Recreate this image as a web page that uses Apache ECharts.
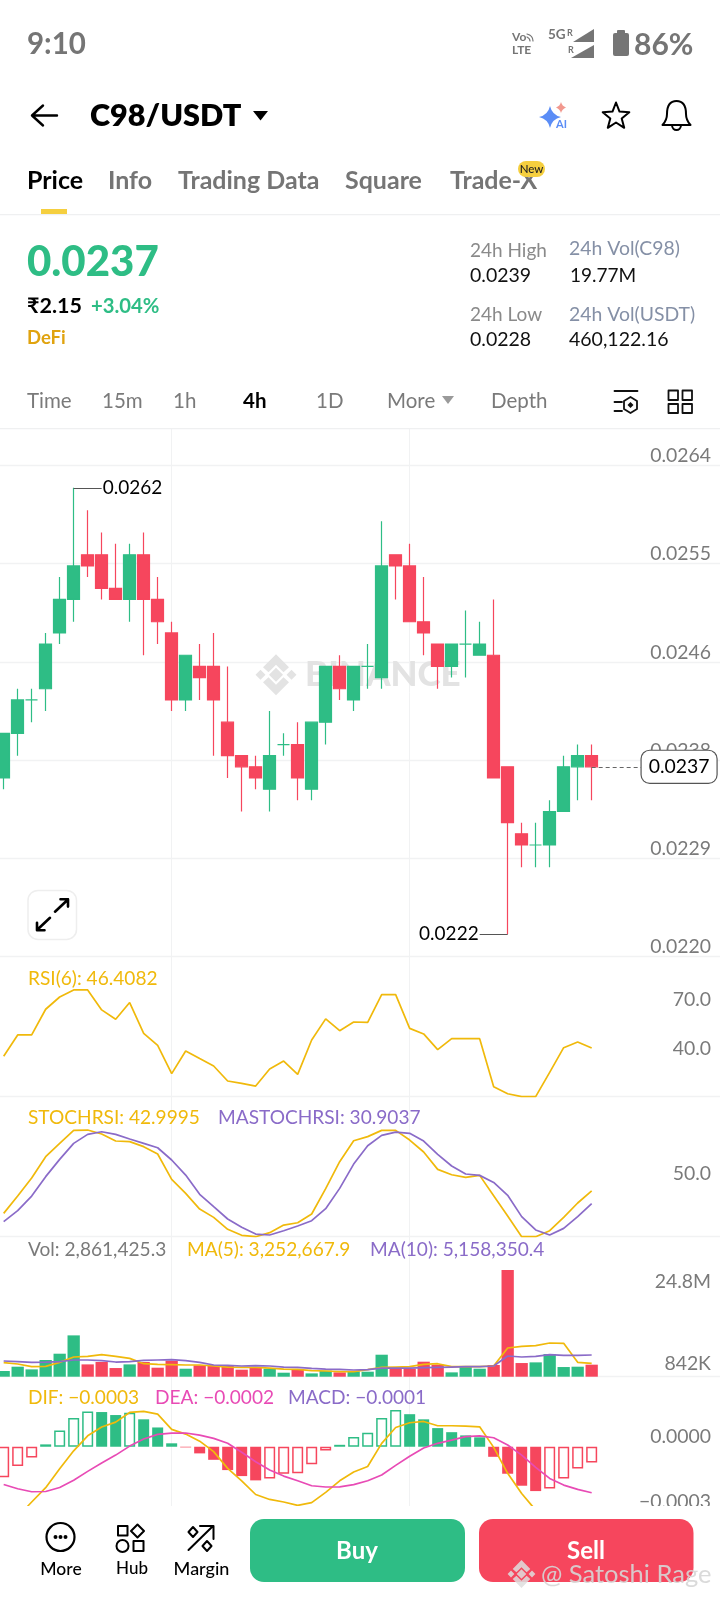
<!DOCTYPE html>
<html>
<head>
<meta charset="utf-8">
<title>C98/USDT</title>
<script src="https://cdn.jsdelivr.net/npm/echarts@6/dist/echarts.min.js"></script>
<style>
html, body { margin: 0; padding: 0; background: #fff; }
#chart { width: 720px; height: 1600px; }
</style>
</head>
<body>
<div id="chart"></div>
<script>
// candles, oldest first
const candleOpen  = [0.0236,0.0240,0.0243,0.0244,0.0249,0.0252,0.0256,0.0256,0.0253,0.0252,0.0256,0.0252,0.0249,0.0243,0.0246,0.0246,0.0241,0.0238,0.0237,0.0235,0.0239,0.0239,0.0235,0.0241,0.0246,0.0243,0.0246,0.0245,0.0256,0.0255,0.0250,0.0248,0.0246,0.0248,0.0247,0.0247,0.0237,0.0231,0.0230,0.0230,0.0233,0.0237,0.0238];
const candleClose = [0.0240,0.0243,0.0243,0.0248,0.0252,0.0255,0.0255,0.0253,0.0252,0.0256,0.0252,0.0250,0.0243,0.0247,0.0245,0.0243,0.0238,0.0237,0.0236,0.0238,0.0239,0.0236,0.0241,0.0246,0.0244,0.0246,0.0246,0.0255,0.0255,0.0250,0.0249,0.0246,0.0248,0.0248,0.0248,0.0236,0.0232,0.0230,0.0230,0.0233,0.0237,0.0238,0.0237];
const candleHigh  = [0.0240,0.0244,0.0244,0.0249,0.0254,0.0262,0.0260,0.0258,0.0257,0.0257,0.0258,0.0254,0.0250,0.0247,0.0248,0.0249,0.0246,0.0238,0.0238,0.0242,0.0240,0.0241,0.0241,0.0246,0.0247,0.0246,0.0248,0.0259,0.0256,0.0257,0.0254,0.0248,0.0248,0.0251,0.0250,0.0252,0.0237,0.0232,0.0232,0.0234,0.0238,0.0239,0.0239];
const candleLow   = [0.0235,0.0238,0.0241,0.0242,0.0248,0.0250,0.0254,0.0252,0.0252,0.0250,0.0247,0.0248,0.0242,0.0242,0.0243,0.0238,0.0236,0.0233,0.0235,0.0233,0.0238,0.0234,0.0234,0.0239,0.0243,0.0242,0.0244,0.0244,0.0252,0.0250,0.0247,0.0244,0.0245,0.0245,0.0247,0.0236,0.0222,0.0228,0.0228,0.0228,0.0233,0.0234,0.0234];
const priceTicks  = [0.0220,0.02288,0.02376,0.02464,0.02552,0.0264];

const rsi6 = [41.3,54.4,54.4,70.1,77.6,81.9,81.9,69.7,64.0,74.2,55.4,48.0,30.7,44.6,39.9,35.4,26.2,24.8,23.1,33.5,38.4,30.3,51.3,64.2,57.0,62.3,62.1,79.1,79.1,58.4,55.0,45.4,52.1,52.1,52.1,22.7,18.4,16.6,16.6,31.5,46.6,50.1,46.4];

const stochRsi = [21.9,38.1,55.0,75.0,87.5,99.7,100,96.3,89.7,89.1,84.4,77.5,53.8,40.6,25.9,18.1,6.9,1.3,0,3.8,10.9,13.1,21.3,45.0,70.3,90.0,93.8,99.7,99.7,90.6,79.4,63.1,58.1,55.6,57.5,38.4,19.4,0,0,5.6,18.1,31.6,43.0];
const maStochRsi = [14.1,24.4,38.1,56.3,72.5,87.5,95.9,98.4,95.9,91.6,87.5,83.4,71.9,57.8,39.7,28.1,16.6,8.8,2.5,1.6,5.6,10.0,15.0,26.3,45.3,68.1,85.3,95.0,98.1,96.9,89.7,77.2,66.3,58.8,57.5,50.9,38.8,18.8,6.3,1.6,7.8,18.8,30.9];

// volume in millions
const volume = [1.35,2.38,1.74,3.97,5.47,9.83,2.93,3.49,2.06,2.93,3.49,2.14,3.81,1.90,2.70,2.70,2.54,1.67,2.22,1.90,0.95,1.82,0.79,1.43,1.03,1.27,1.19,5.23,1.90,1.90,3.57,2.85,1.03,2.30,1.90,2.78,25.38,3.25,3.41,5.39,2.30,2.38,2.86];
const volMa5 = [3.35,3.02,2.38,2.46,3.41,4.68,4.84,5.23,4.84,4.36,3.09,2.93,2.85,2.78,2.78,2.54,2.30,2.22,2.22,2.06,1.82,1.74,1.43,1.35,1.19,1.19,1.67,2.22,2.30,2.38,2.93,3.09,2.38,2.38,2.38,2.54,6.82,7.22,7.38,8.01,7.93,3.41,3.17];
const volMa10 = [3.74,3.58,3.41,3.49,3.58,3.97,3.97,3.81,3.49,3.58,3.89,3.97,4.05,3.81,3.41,2.78,2.70,2.54,2.62,2.54,2.30,2.22,1.98,1.82,1.74,1.59,1.67,2.06,2.06,2.06,2.14,2.22,2.30,2.38,2.38,2.54,4.92,4.68,4.84,5.23,5.08,5.08,5.16];
const volTicks = [842000,24800000];

const dif = [-0.000389,-0.000327,-0.000258,-0.000191,-0.000103,-0.000019,0.000051,0.000092,0.000115,0.000160,0.000165,0.000152,0.000081,0.000059,0.000026,-0.000023,-0.000101,-0.000159,-0.000223,-0.000246,-0.000258,-0.000274,-0.000261,-0.000213,-0.000159,-0.000118,-0.000092,0.000016,0.000090,0.000112,0.000118,0.000098,0.000098,0.000096,0.000093,-0.000003,-0.000124,-0.000218,-0.000296,-0.000342,-0.000358,-0.000342,-0.000311];
const dea = [-0.000176,-0.000196,-0.000210,-0.000209,-0.000190,-0.000156,-0.000115,-0.000076,-0.000039,0.000003,0.000036,0.000058,0.000064,0.000064,0.000054,0.000039,0.000016,-0.000026,-0.000070,-0.000109,-0.000137,-0.000159,-0.000182,-0.000188,-0.000187,-0.000177,-0.000159,-0.000132,-0.000087,-0.000044,-0.000006,0.000016,0.000031,0.000047,0.000051,0.000042,0.000008,-0.000039,-0.000096,-0.000148,-0.000179,-0.000199,-0.000215];
const macd = [-0.000143,-0.000090,-0.000050,0.000011,0.000076,0.000134,0.000165,0.000162,0.000148,0.000159,0.000128,0.000090,0.000016,-0.000003,-0.000031,-0.000061,-0.000109,-0.000137,-0.000157,-0.000148,-0.000126,-0.000124,-0.000082,-0.000017,0.000009,0.000045,0.000065,0.000134,0.000171,0.000152,0.000128,0.000087,0.000068,0.000053,0.000044,-0.000047,-0.000126,-0.000182,-0.000207,-0.000195,-0.000148,-0.000101,-0.000073];

const UP = '#2EBD85', DOWN = '#F6465D', YELLOW = '#F0B90B', PURPLE = '#8A6BC8', PINK = '#E84BB5';
const GRID = '#F1F2F3', GREY = '#7A7A7A';
const FONT = 'Lato, "Noto Sans", sans-serif';

// 52 bands of 14px, the last ones stay empty so the price labels have room
var slots = [];
for (var s = 0; s < 52; s++) { slots.push(String(s)); }

//one panel = one grid + its x axis + its y axis
var grids = [], xAxes = [], yAxes = [];
function addPanel(top, bottom, yOpt, labelOpt, rule) {
    // the grid hangs over both canvas edges, v6 would pull it back inside otherwise
    grids.push({ left: -3.33, width: 728, top: top, height: bottom - top, outerBoundsMode: 'none' });
    xAxes.push({
        type: 'category', gridIndex: grids.length - 1, data: slots, boundaryGap: true,
        axisLabel: { show: false }, axisTick: { show: false },
        axisLine: { show: rule, onZero: false, lineStyle: { color: GRID, width: 1.3 } },
        splitLine: {
            show: true, alignWithLabel: true, lineStyle: { color: GRID, width: 1 },
            interval: function (i) { return i === 12 || i === 29; }
        }
    });
    yAxes.push(Object.assign({
        type: 'value', gridIndex: grids.length - 1, position: 'right',
        axisLine: { show: false },
        axisTick: { show: false, customValues: labelOpt.customValues },
        axisLabel: Object.assign({
            inside: true, margin: 13.7, verticalAlign: 'bottom',
            color: GREY, fontSize: 19.4, fontFamily: FONT
        }, labelOpt),
        splitLine: { show: false }
    }, yOpt));
}

addPanel(428, 956.6, { min: 0.022, max: 0.026736, splitLine: { show: true, lineStyle: { color: GRID, width: 1.3 } } },
    { customValues: priceTicks, formatter: function (v) { return v.toFixed(4); } }, false);
addPanel(956.6, 1096.7, { min: 16.6, max: 102.32 },
    { customValues: [40, 70], formatter: function (v) { return v.toFixed(1); } }, true);
addPanel(1096.7, 1236.7, { min: 0, max: 131.25 },
    { customValues: [50], formatter: function (v) { return v.toFixed(1); } }, true);
addPanel(1236.7, 1376.7, { min: 0, max: 33.3e6 },
    { customValues: volTicks, verticalAlignMaxLabel: 'top', verticalAlignMinLabel: 'bottom',
      formatter: function (v) { return v >= 1e6 ? (v / 1e6).toFixed(1) + 'M' : Math.round(v / 1e3) + 'K'; } }, true);
addPanel(1376.7, 1520, { min: -0.000342, max: 0.000327 },
    { customValues: [-0.0003, 0], formatter: function (v) { return v === 0 ? '0.0000' : '\u2212' + Math.abs(v).toFixed(4); } }, false);

function line(name, idx, values, color) {
    return {
        name: name, type: 'line', xAxisIndex: idx, yAxisIndex: idx, data: values,
        symbol: 'none', smooth: false, z: 4,
        lineStyle: { color: color, width: 1.7 }
    };
}

//high and low leaders + last price tag
function leader(from, to, text) {
    return [
        { coord: [slots[from], text], symbol: 'none' },
        { coord: [slots[to], text], symbol: 'none',
          label: { show: true, position: 'end', distance: 1, formatter: text.toFixed(4), color: '#000', fontSize: 19, fontFamily: FONT },
          lineStyle: { color: '#555', width: 1, type: 'solid' } }
    ];
}
var last = candleClose.length - 1;
var candleSeries = {
    name: 'C98/USDT', type: 'candlestick', xAxisIndex: 0, yAxisIndex: 0, z: 3,
    barWidth: 12.3,
    data: candleOpen.map(function (o, i) { return [o, candleClose[i], candleLow[i], candleHigh[i]]; }),
    itemStyle: {
        color: UP, color0: DOWN, borderColor: UP, borderColor0: DOWN, borderColorDoji: UP, borderWidth: 1.2
    },
    markLine: {
        silent: true, animation: false, symbol: 'none', z: 6,
        data: [
            leader(5, 7, 0.0262),
            leader(36, 34, 0.0222),
            [
                { coord: [slots[last], candleClose[last]], symbol: 'none' },
                { coord: [slots[46], candleClose[last]], symbol: 'none',
                  lineStyle: { color: '#666', width: 1, type: [4, 3] },
                  label: { show: true, position: 'end', distance: -6, formatter: candleClose[last].toFixed(4),
                           color: '#000', fontSize: 19.4, fontFamily: FONT, backgroundColor: '#fff',
                           borderColor: '#555', borderWidth: 1.2, borderRadius: 8, padding: [6, 7], lineHeight: 20 } }
            ]
        ]
    }
};

var volSeries = {
    name: 'Vol', type: 'bar', xAxisIndex: 3, yAxisIndex: 3, barWidth: 12.3, z: 3,
    data: volume.map(function (v, i) {
        var isUp = candleClose[i] >= candleOpen[i];
        return { value: v * 1e6, itemStyle: { color: isUp ? UP : DOWN } };
    })
};

//bars stay hollow while the histogram moves up, filled while it moves down
var macdSeries = {
    name: 'MACD', type: 'bar', xAxisIndex: 4, yAxisIndex: 4, barWidth: 11, z: 3,
    data: macd.map(function (v, i) {
        var color = v >= 0 ? UP : DOWN;
        var hollow = i === 0 || v > macd[i - 1];
        return { value: v, itemStyle: hollow ? { color: '#fff', borderColor: color, borderWidth: 1.5 } : { color: color } };
    })
};

//scale a binance mark around its centre
function logoPath(cx, cy, k) {
    function p(x, y) { return (cx + x * k).toFixed(1) + ' ' + (cy + y * k).toFixed(1); }
    return 'M' + p(0, -20.5) + 'L' + p(13, -7.5) + 'L' + p(7.5, -2.5) + 'L' + p(0, -10) + 'L' + p(-7.5, -2.5) + 'L' + p(-13, -7.5) + 'Z'
        + 'M' + p(0, 20.5) + 'L' + p(13, 7.5) + 'L' + p(7.5, 2.5) + 'L' + p(0, 10) + 'L' + p(-7.5, 2.5) + 'L' + p(-13, 7.5) + 'Z'
        + 'M' + p(0, -7) + 'L' + p(7, 0) + 'L' + p(0, 7) + 'L' + p(-7, 0) + 'Z'
        + 'M' + p(-15.5, -5) + 'L' + p(-10.5, 0) + 'L' + p(-15.5, 5) + 'L' + p(-20.5, 0) + 'Z'
        + 'M' + p(15.5, -5) + 'L' + p(20.5, 0) + 'L' + p(15.5, 5) + 'L' + p(10.5, 0) + 'Z';
}

//the graphic component has no raw path type, so every icon gets its own shape class
var iconCount = 0;
function iconType(d) {
    var name = 'icon' + (iconCount++);
    echarts.graphic.registerShape(name, echarts.graphic.extendPath(d, {}));
    return name;
}

//page furniture
var items = [];
function txt(x, y, str, size, color, weight, align, z) {
    items.push({ type: 'text', z: z || 20, style: {
        x: x, y: y, text: str, fill: color, textAlign: align || 'left', textVerticalAlign: 'middle',
        font: (weight || 400) + ' ' + size + 'px ' + FONT
    } });
}
function stroke(d, color, width, z) {
    items.push({ type: iconType(d), z: z || 20, style: { fill: 'none', stroke: color || '#000', lineWidth: width || 2, lineCap: 'round', lineJoin: 'round' } });
}
function fill(d, color, z) {
    items.push({ type: iconType(d), z: z || 20, style: { fill: color } });
}
function box(x, y, w, h, r, color, z, border) {
    items.push({ type: 'rect', z: z || 20, shape: { x: x, y: y, width: w, height: h, r: r },
        style: { fill: color, stroke: border || null, lineWidth: border ? 1.5 : 0 } });
}

// status bar
txt(27, 44, '9:10', 29.5, '#757575', 700);
txt(512, 37.5, 'Vo', 12, '#757575', 700);
stroke('M527 34 C531 35 533 38 533 41 M527 37 C529 38 530 39 530 41', '#757575', 1.2);
txt(512, 50, 'LTE', 12, '#757575', 700);
txt(548, 35, '5G', 13.5, '#757575', 700);
txt(567, 33, 'R', 9, '#757575', 700);
txt(568, 50, 'R', 9, '#757575', 700);
fill('M594 29 V42 H573 Z', '#757575');
fill('M594 45 V58 H571 Z', '#757575');
box(613, 33, 16, 23, 2, '#757575');
box(617, 30, 8, 4, 1, '#757575');
txt(634, 45, '86%', 30, '#757575', 700);

// title row
stroke('M57 115.5 H32 M43 105.5 L32 115.5 L43 125.5', '#000', 2.4);
txt(90, 116, 'C98/USDT', 30.6, '#000', 800);
fill('M253 111 H268 L260.5 120.5 Z', '#000');
fill('M550 106 Q552 115 561 117 Q552 119 550 128 Q548 119 539 117 Q548 115 550 106 Z', '#5B8DF6');
fill('M561 102 Q562 106 566 107.5 Q562 109 561 113 Q560 109 556 107.5 Q560 106 561 102 Z', '#F2988E');
txt(556, 124, 'AI', 11, '#5B8DF6', 700);
stroke('M616 102.5 L619.5 111.6 L629.3 112.2 L621.7 118.4 L624.2 127.8 L616 122.5 L607.8 127.8 L610.3 118.4 L602.7 112.2 L612.5 111.6 Z', '#000', 2);
stroke('M676.5 101 C668 101 667 108 667 114 C667 120 665 122 662.5 125 H690.5 C688 122 686 120 686 114 C686 108 685 101 676.5 101 Z M672 125 C672 131.5 681 131.5 681 125', '#000', 2);

// tabs
txt(27, 181, 'Price', 25, '#000', 700);
txt(108, 181, 'Info', 25, '#757575', 700);
txt(178, 181, 'Trading Data', 25, '#757575', 700);
txt(345, 181, 'Square', 25, '#757575', 700);
txt(450, 181, 'Trade-X', 25, '#757575', 700);
box(518, 161, 27, 16, 8, '#F5CF3F', 21);
txt(531.5, 169.5, 'New', 11.5, '#222', 500, 'center', 22);
box(41, 209, 26, 5, 0, '#F5CF3F');
box(0, 214, 720, 1.3, 0, '#EFF0F1');

// price block
txt(27, 262, '0.0237', 42, UP, 900);
txt(27, 306, '\u20B92.15', 21.5, '#000', 700);
txt(91, 306, '+3.04%', 20.3, UP, 700);
txt(27, 338, 'DeFi', 18.5, '#E0A30F', 700);
txt(470, 251, '24h High', 19, '#8A8A8A');
txt(470, 276, '0.0239', 19.5, '#111');
txt(470, 315, '24h Low', 19, '#8A8A8A');
txt(470, 340, '0.0228', 19.5, '#111');
txt(569, 249, '24h Vol(C98)', 19.4, '#8590A6');
txt(570, 276, '19.77M', 19, '#111');
txt(569, 315, '24h Vol(USDT)', 19.4, '#8590A6');
txt(569, 340, '460,122.16', 19.5, '#111');

// interval row
txt(27, 401, 'Time', 20.5, '#7A7A7A');
txt(102, 401, '15m', 20.5, '#7A7A7A');
txt(173, 401, '1h', 20.5, '#7A7A7A');
txt(243, 401, '4h', 20.5, '#000', 700);
txt(316, 401, '1D', 20.5, '#7A7A7A');
txt(387, 401, 'More', 20.5, '#7A7A7A');
fill('M442 396 H454 L448 404 Z', '#9A9A9A');
txt(491, 401, 'Depth', 20.5, '#7A7A7A');
stroke('M614.5 391 H637.5 M614.5 402 H622 M614.5 411 H622', '#111', 1.8);
stroke('M630.5 397 L637 401 V409 L630.5 413 L624 409 V401 Z', '#111', 1.8);
fill('M630.5 402 L633.5 405 L630.5 408 L627.5 405 Z', '#111');
stroke('M668.5 390.5 H678 V400 H668.5 Z M682.5 390.5 H692 V400 H682.5 Z M668.5 404 H678 V413 H668.5 Z M682.5 404 H692 V413 H682.5 Z', '#111', 1.8);
box(0, 428, 720, 1.3, 0, '#EFF0F1', 1);

// chart watermark, sits under the candles
fill(logoPath(276, 674.8, 1), '#E3E3E3', 1);
txt(305, 675, 'BINANCE', 35, '#E3E3E3', 900, 'left', 1);

// expand button
box(28, 890.4, 48.5, 49, 10, '#fff', 10, '#EEEEEE');
stroke('M55 911.7 L68 899.5 M60.5 899.2 H68 V906.6 M50 917.8 L37 930 M37 922.8 V930.3 H44.5', '#000', 2.6, 11);

// panel captions
txt(28, 978.7, 'RSI(6): 46.4082', 19.1, YELLOW);
txt(28, 1118.3, 'STOCHRSI: 42.9995', 19.1, YELLOW);
txt(218, 1118.3, 'MASTOCHRSI: 30.9037', 19.1, PURPLE);
txt(28, 1250, 'Vol: 2,861,425.3', 19.1, GREY);
txt(187, 1250, 'MA(5): 3,252,667.9', 19.1, YELLOW);
txt(370, 1250, 'MA(10): 5,158,350.4', 19.1, PURPLE);
txt(28, 1398.3, 'DIF: \u22120.0003', 19.1, YELLOW);
txt(155, 1398.3, 'DEA: \u22120.0002', 19.1, PINK);
txt(288, 1398.3, 'MACD: \u22120.0001', 19.1, PURPLE);

// footer covers the clipped end of the macd panel
box(0, 1506, 720, 94, 0, '#fff', 100);
stroke('M74.5 1537 A14 14 0 1 1 46.5 1537 A14 14 0 1 1 74.5 1537 Z', '#000', 2.2, 101);
fill('M53.5 1537 a2 2 0 1 0 4 0 a2 2 0 1 0 -4 0 Z M58.5 1537 a2 2 0 1 0 4 0 a2 2 0 1 0 -4 0 Z M63.5 1537 a2 2 0 1 0 4 0 a2 2 0 1 0 -4 0 Z', '#000', 101);
txt(61, 1569, 'More', 17.5, '#000', 500, 'center', 101);
stroke('M118 1526 H127.5 V1535.5 H118 Z M137.5 1524.5 L144 1531 L137.5 1537.5 L131 1531 Z M128.5 1546 A6 6 0 1 1 116.5 1546 A6 6 0 1 1 128.5 1546 Z M133.5 1541 H143.5 V1551 H133.5 Z', '#000', 2, 101);
txt(132, 1569, 'Hub', 17, '#000', 500, 'center', 101);
stroke('M188.5 1550 L213 1526 M200 1526 H213.5 V1539 M193 1527 L197.5 1532 L193 1537 L188.5 1532 Z M207 1541 L211.5 1546 L207 1551 L202.5 1546 Z', '#000', 2, 101);
txt(201.5, 1569, 'Margin', 18, '#000', 500, 'center', 101);
box(250, 1519, 215, 63, 14, UP, 101);
txt(357, 1551, 'Buy', 24, '#fff', 700, 'center', 102);
box(479, 1519, 214.5, 63, 14, DOWN, 101);
txt(586, 1551, 'Sell', 24, '#fff', 700, 'center', 102);
fill(logoPath(521.5, 1574, 0.68), 'rgba(222,222,222,0.85)', 103);
txt(541, 1575, '@ Satoshi Rage', 25.5, 'rgba(214,214,214,0.9)', 400, 'left', 103);

var chart = echarts.init(document.getElementById('chart'), null, { renderer: 'canvas' });
chart.setOption({
    animation: false,
    backgroundColor: '#fff',
    textStyle: { fontFamily: FONT },
    grid: grids,
    xAxis: xAxes,
    yAxis: yAxes,
    graphic: { elements: items },
    series: [
        candleSeries,
        line('RSI(6)', 1, rsi6, YELLOW),
        line('STOCHRSI', 2, stochRsi, YELLOW),
        line('MASTOCHRSI', 2, maStochRsi, PURPLE),
        volSeries,
        line('MA(5)', 3, volMa5.map(function (v) { return v * 1e6; }), YELLOW),
        line('MA(10)', 3, volMa10.map(function (v) { return v * 1e6; }), PURPLE),
        macdSeries,
        line('DIF', 4, dif, YELLOW),
        line('DEA', 4, dea, PINK)
    ]
});
</script>
</body>
</html>
